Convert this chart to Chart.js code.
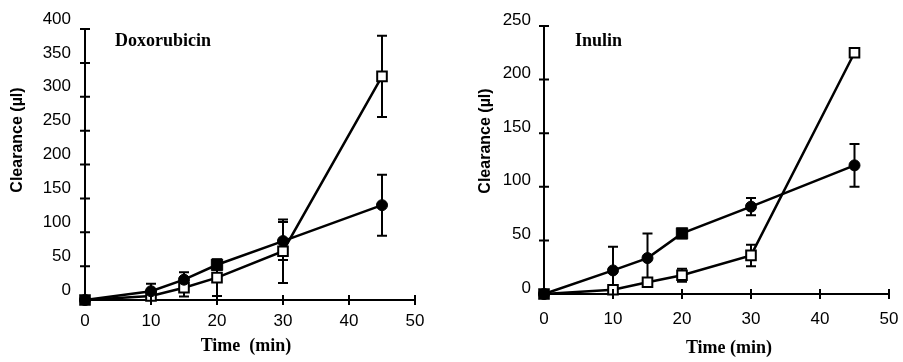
<!DOCTYPE html>
<html><head><meta charset="utf-8">
<script src="https://cdn.jsdelivr.net/npm/chart.js@4.4.1/dist/chart.umd.min.js"></script>
<style>
html,body{margin:0;padding:0;background:#fff}
#wrap{position:relative;width:903px;height:362px;background:#fff;overflow:hidden}
canvas{position:absolute;top:0}
</style></head>
<body>
<div id="wrap">
<canvas id="c1" width="450" height="362" style="left:0"></canvas>
<canvas id="c2" width="453" height="362" style="left:450px"></canvas>
</div>
<script>
// ---- data ----
const timeMin = [0, 10, 15, 20, 30, 45];
const xTickLabels = [0, 10, 20, 30, 40, 50];

const doxFilled   = [0, 13, 30, 52, 87, 140];
const doxFilledSD = [0, 11, 11, 0, 28, 45];
const doxOpen     = [0, 6, 18, 33, 72, 330];
const doxOpenSD   = [0, 0, 13, 27, 47, 60];
const doxYTickLabels = [0, 50, 100, 150, 200, 250, 300, 350, 400];

const inuFilled   = [0, 22, 33.5, 56.5, 81.5, 120];
const inuFilledSD = [0, 22, 23, 0, 8, 20];
const inuOpen     = [0, 4, 11, 17.5, 36, 225];
const inuOpenSD   = [0, 0, 0, 6, 10, 0];
const inuYTickLabels = [0, 50, 100, 150, 200, 250];

const yTitle = 'Clearance (\u00b5l)';
const xTitleDox = 'Time  (min)';
const xTitleInu = 'Time (min)';
const panelDox = 'Doxorubicin';
const panelInu = 'Inulin';

// ---- plugins ----
const errorBars = {
  id: 'errorBars',
  beforeDatasetsDraw(chart) {
    const {ctx, scales: {x, y}} = chart;
    ctx.save();
    ctx.strokeStyle = '#000';
    ctx.lineWidth = 2;
    chart.data.datasets.forEach(ds => {
      if (!ds.sd) return;
      ds.data.forEach((p, i) => {
        const e = ds.sd[i];
        if (!e) return;
        const px = x.getPixelForValue(p.x);
        const yt = y.getPixelForValue(p.y + e);
        const yb = y.getPixelForValue(Math.max(p.y - e, 0));
        ctx.beginPath();
        ctx.moveTo(px, yt); ctx.lineTo(px, yb);
        ctx.moveTo(px - 5, yt); ctx.lineTo(px + 5, yt);
        if (p.y - e > 0) { ctx.moveTo(px - 5, yb); ctx.lineTo(px + 5, yb); }
        ctx.stroke();
      });
    });
    ctx.restore();
  }
};

const crossTicks = {
  id: 'crossTicks',
  afterDraw(chart) {
    const {ctx, scales: {x, y}, chartArea: a} = chart;
    ctx.save();
    ctx.strokeStyle = '#000';
    ctx.lineWidth = 2;
    ctx.beginPath();
    y.ticks.forEach(t => {
      const py = y.getPixelForValue(t.value);
      ctx.moveTo(a.left - 5, py); ctx.lineTo(a.left + 5, py);
    });
    x.ticks.forEach(t => {
      const px = x.getPixelForValue(t.value);
      ctx.moveTo(px, a.bottom - 5); ctx.lineTo(px, a.bottom + 5);
    });
    ctx.stroke();
    ctx.restore();
  }
};

const figText = {
  id: 'figText',
  afterDraw(chart, args, opts) {
    const ctx = chart.ctx;
    (opts.items || []).forEach(t => {
      ctx.save();
      ctx.fillStyle = '#000';
      ctx.translate(t.x, t.y);
      if (t.rotate) ctx.rotate(t.rotate);
      ctx.font = t.font;
      ctx.textAlign = t.align || 'center';
      ctx.textBaseline = 'middle';
      ctx.fillText(t.text, 0, 0);
      ctx.restore();
    });
  }
};

const pts = (xs, ys) => xs.map((t, i) => ({x: t, y: ys[i]}));
const tickFont = {family: "'Liberation Sans', Arial, sans-serif", size: 17};

function makeChart(id, cfg) {
  return new Chart(document.getElementById(id), {
    type: 'line',
    data: {
      datasets: [
        {
          data: pts(timeMin, cfg.filled), sd: cfg.filledSD,
          borderColor: '#000', borderWidth: 2.5, backgroundColor: '#000',
          pointBackgroundColor: '#000', pointBorderColor: '#000', pointBorderWidth: 1,
          pointStyle: c => (c.raw && c.raw.x === 20) ? 'rect' : 'circle',
          pointRadius: c => (c.raw && c.raw.x === 20) ? 8 : 5.5,
          tension: 0, clip: false
        },
        {
          data: pts(timeMin, cfg.open), sd: cfg.openSD,
          borderColor: '#000', borderWidth: 2.5, backgroundColor: '#fff',
          pointBackgroundColor: '#fff', pointBorderColor: '#000', pointBorderWidth: 2,
          pointStyle: 'rect', pointRadius: 6.8,
          tension: 0, clip: false
        }
      ]
    },
    options: {
      responsive: false, animation: false, events: [],
      layout: {padding: {left: 0, right: cfg.padRight, top: cfg.padTop, bottom: 0}},
      plugins: {
        legend: {display: false}, tooltip: {enabled: false},
        figText: {items: cfg.texts}
      },
      scales: {
        x: {
          type: 'linear', min: 0, max: 50,
          afterBuildTicks: s => { s.ticks = xTickLabels.map(v => ({value: v})); },
          afterFit: s => { s.height = cfg.xHeight; s.paddingLeft = 0; s.paddingRight = 0; },
          grid: {display: false, drawTicks: false},
          border: {display: true, color: '#000', width: 2},
          ticks: {color: '#000', font: tickFont, padding: cfg.xPad, maxRotation: 0}
        },
        y: {
          type: 'linear', min: 0, max: cfg.yMax,
          afterBuildTicks: s => { s.ticks = cfg.yTicks.map(v => ({value: v})); },
          afterFit: s => { s.width = cfg.yWidth; s.paddingTop = 0; s.paddingBottom = 0; },
          grid: {display: false, drawTicks: false},
          border: {display: true, color: '#000', width: 2},
          ticks: {color: '#000', font: tickFont, padding: cfg.yPad, labelOffset: cfg.yLabelOffset}
        }
      }
    },
    plugins: [errorBars, crossTicks, figText]
  });
}

const boldSans = "bold 16px 'Liberation Sans', Arial, sans-serif";
const boldSerif = "bold 18px 'Liberation Serif', 'Times New Roman', serif";

makeChart('c1', {
  filled: doxFilled, filledSD: doxFilledSD, open: doxOpen, openSD: doxOpenSD,
  yMax: 400, yTicks: doxYTickLabels,
  padRight: 35, padTop: 29, xHeight: 62, yWidth: 85,
  xPad: 11, yPad: 14, yLabelOffset: -10,
  texts: [
    {text: yTitle, x: 18, y: 140, rotate: -Math.PI / 2, font: boldSans},
    {text: xTitleDox, x: 246, y: 346, font: boldSerif},
    {text: panelDox, x: 115, y: 41, align: 'left', font: boldSerif}
  ]
});

makeChart('c2', {
  filled: inuFilled, filledSD: inuFilledSD, open: inuOpen, openSD: inuOpenSD,
  yMax: 250, yTicks: inuYTickLabels,
  padRight: 14, padTop: 26, xHeight: 68, yWidth: 94,
  xPad: 15, yPad: 13, yLabelOffset: -6,
  texts: [
    {text: yTitle, x: 36, y: 141, rotate: -Math.PI / 2, font: boldSans},
    {text: xTitleInu, x: 279, y: 348, font: boldSerif},
    {text: panelInu, x: 125, y: 41, align: 'left', font: boldSerif}
  ]
});
</script>
</body></html>
